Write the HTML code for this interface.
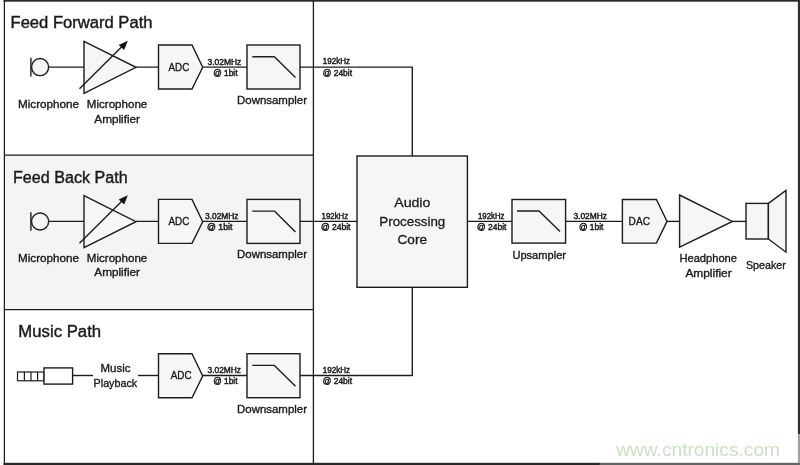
<!DOCTYPE html>
<html>
<head>
<meta charset="utf-8">
<title>Audio Processing Block Diagram</title>
<style>
html,body{margin:0;padding:0;background:#fff;width:800px;height:465px;overflow:hidden}
svg{display:block;position:absolute;left:0;top:0;will-change:transform}
text{font-family:"Liberation Sans",sans-serif;fill:#1a1a1a}
.t{font-size:16px;stroke:#1a1a1a;stroke-width:.4}
.l{font-size:11px;stroke:#1a1a1a;stroke-width:.35}
.s{font-size:8.5px;stroke:#1a1a1a;stroke-width:.45}
.c{font-size:13.5px;stroke:#1a1a1a;stroke-width:.3}
.ln{stroke:#1c1c1c;stroke-width:1.4;fill:none;stroke-linejoin:round}
.sh{stroke:#1c1c1c;stroke-width:1.4;fill:#f5f7f7}
.dv{stroke:#1c1c1c;stroke-width:1.3;fill:none}
.wh{stroke:#1c1c1c;stroke-width:1.2;fill:#fff}
</style>
</head>
<body>
<svg width="800" height="465" viewBox="0 0 800 465">
<rect x="0" y="0" width="800" height="465" fill="#fff"/>
<rect x="4.3" y="155.2" width="309.1" height="154.5" fill="#f3f5f5"/>
<!-- outer frame -->
<rect x="3.6" y="0" width="796.4" height="1.7" fill="#2b2b2b"/>
<rect x="3.6" y="462.8" width="796.4" height="2.2" fill="#262a2a"/>
<rect x="3.75" y="0" width="1.25" height="465" fill="#1c1c1c"/>
<rect x="797.9" y="0" width="2.1" height="465" fill="#2e2e2e"/>
<line class="dv" x1="313.4" y1="1" x2="313.4" y2="464"/>
<line class="dv" x1="4" y1="155.2" x2="314" y2="155.2"/>
<line class="dv" x1="4" y1="309.7" x2="314" y2="309.7"/>

<text class="t" x="10.5" y="28.3" textLength="142" lengthAdjust="spacingAndGlyphs">Feed Forward Path</text>
<text class="t" x="13" y="183" textLength="114.6" lengthAdjust="spacingAndGlyphs">Feed Back Path</text>
<text class="t" x="18.3" y="337" textLength="82.8" lengthAdjust="spacingAndGlyphs">Music Path</text>
<g transform="translate(0,0)">
  <line class="ln" x1="30.9" y1="57.8" x2="30.9" y2="76.4"/>
  <circle class="sh" cx="40.1" cy="67.1" r="8.55"/>
  <polygon class="sh" points="84,41.3 84,93.3 136,67.3"/>
  <line class="ln" x1="79.5" y1="88.8" x2="123.5" y2="45"/>
  <polygon points="127.8,40.8 124.2,50 118.7,45" fill="#111"/>
</g>
<text class="l" x="18" y="107.8" textLength="61" lengthAdjust="spacingAndGlyphs">Microphone</text>
<text class="l" x="86.8" y="107.8" textLength="60.5" lengthAdjust="spacingAndGlyphs">Microphone</text>
<text class="l" x="94.3" y="122.5" textLength="45.7" lengthAdjust="spacingAndGlyphs">Amplifier</text>
<path class="ln" d="M48.6,67.1H84M136,67.1H158.5"/>
<path class="ln" d="M202.7,67.1H247"/>
<g transform="translate(0,0)">
  <polygon class="sh" points="158.5,45 192,45 202.7,67.3 192,89 158.5,89"/>
  <rect class="sh" x="247" y="45" width="53" height="44"/>
  <polyline class="ln" points="252.3,56.7 274.4,56.7 295.5,77.6"/>
</g>
<text class="l" x="168.5" y="70.7" textLength="20.8" lengthAdjust="spacingAndGlyphs">ADC</text>
<text class="l" x="237" y="103.8" textLength="70" lengthAdjust="spacingAndGlyphs">Downsampler</text>
<g transform="translate(0,154.4)">
  <line class="ln" x1="30.9" y1="57.8" x2="30.9" y2="76.4"/>
  <circle class="sh" cx="40.1" cy="67.1" r="8.55"/>
  <polygon class="sh" points="84,41.3 84,93.3 136,67.3"/>
  <line class="ln" x1="79.5" y1="88.8" x2="123.5" y2="45"/>
  <polygon points="127.8,40.8 124.2,50 118.7,45" fill="#111"/>
</g>
<text class="l" x="18" y="261.7" textLength="61" lengthAdjust="spacingAndGlyphs">Microphone</text>
<text class="l" x="86.8" y="261.7" textLength="60.5" lengthAdjust="spacingAndGlyphs">Microphone</text>
<text class="l" x="94.3" y="276.4" textLength="45.7" lengthAdjust="spacingAndGlyphs">Amplifier</text>
<path class="ln" d="M48.6,221.4H84M136,221.4H158.5"/>
<path class="ln" d="M202.7,221.4H247"/>
<g transform="translate(0,154.4)">
  <polygon class="sh" points="158.5,45 192,45 202.7,67.3 192,89 158.5,89"/>
  <rect class="sh" x="247" y="45" width="53" height="44"/>
  <polyline class="ln" points="252.3,56.7 274.4,56.7 295.5,77.6"/>
</g>
<text class="l" x="168.5" y="225.1" textLength="20.8" lengthAdjust="spacingAndGlyphs">ADC</text>
<text class="l" x="237" y="257.8" textLength="70" lengthAdjust="spacingAndGlyphs">Downsampler</text>
<path class="ln" d="M202.7,375.5H247"/>
<g transform="translate(0,308.7)">
  <polygon class="sh" points="158.5,45 192,45 202.7,67.3 192,89 158.5,89"/>
  <rect class="sh" x="247" y="45" width="53" height="44"/>
  <polyline class="ln" points="252.3,56.7 274.4,56.7 295.5,77.6"/>
</g>
<text class="l" x="170.8" y="379.4" textLength="20.8" lengthAdjust="spacingAndGlyphs">ADC</text>
<text class="l" x="237" y="412.5" textLength="70" lengthAdjust="spacingAndGlyphs">Downsampler</text>
<text class="s" x="207.5" y="64.8" textLength="33.7" lengthAdjust="spacingAndGlyphs">3.02MHz</text>
<text class="s" x="213.3" y="76.2" textLength="24.2" lengthAdjust="spacingAndGlyphs">@ 1bit</text>
<text class="s" x="322.8" y="64.3" textLength="27.2" lengthAdjust="spacingAndGlyphs">192kHz</text>
<text class="s" x="322.8" y="75.6" textLength="29.2" lengthAdjust="spacingAndGlyphs">@ 24bit</text>
<text class="s" x="205" y="218.5" textLength="33.5" lengthAdjust="spacingAndGlyphs">3.02MHz</text>
<text class="s" x="207" y="229.7" textLength="25.4" lengthAdjust="spacingAndGlyphs">@ 1bit</text>
<text class="s" x="321.5" y="218.5" textLength="26.7" lengthAdjust="spacingAndGlyphs">192kHz</text>
<text class="s" x="321" y="229.6" textLength="29.5" lengthAdjust="spacingAndGlyphs">@ 24bit</text>
<text class="s" x="207.5" y="372.9" textLength="33.5" lengthAdjust="spacingAndGlyphs">3.02MHz</text>
<text class="s" x="213.3" y="384.3" textLength="24.2" lengthAdjust="spacingAndGlyphs">@ 1bit</text>
<text class="s" x="322.8" y="372.9" textLength="27.2" lengthAdjust="spacingAndGlyphs">192kHz</text>
<text class="s" x="322.8" y="384.1" textLength="29.2" lengthAdjust="spacingAndGlyphs">@ 24bit</text>

<!-- music jack -->
<rect class="wh" x="17.5" y="372" width="26.5" height="8.8"/>
<line class="wh" x1="24.4" y1="372" x2="24.4" y2="380.8"/>
<line class="wh" x1="31" y1="372" x2="31" y2="380.8"/>
<line class="wh" x1="37.6" y1="372" x2="37.6" y2="380.8"/>
<rect class="wh" x="44" y="367.9" width="28.6" height="16.2" style="stroke-width:1.4"/>
<line class="ln" x1="72.6" y1="375.5" x2="93" y2="375.5"/>
<line class="ln" x1="138" y1="375.5" x2="158.5" y2="375.5"/>

<text class="l" x="100.6" y="372.4" textLength="29.8" lengthAdjust="spacingAndGlyphs">Music</text>
<text class="l" x="93.6" y="387" textLength="43.6" lengthAdjust="spacingAndGlyphs">Playback</text>

<!-- wires to core -->
<polyline class="ln" points="300,67.1 412.3,67.1 412.3,156"/>
<line class="ln" x1="300" y1="221.4" x2="357" y2="221.4"/>
<polyline class="ln" points="300,375.5 412.3,375.5 412.3,287.5"/>

<!-- core -->
<rect class="sh" x="357" y="156" width="110.4" height="131.3"/>

<text class="c" x="394.2" y="207.3" textLength="36.2" lengthAdjust="spacingAndGlyphs">Audio</text>
<text class="c" x="379.3" y="226.2" textLength="66" lengthAdjust="spacingAndGlyphs">Processing</text>
<text class="c" x="397.5" y="244.3" textLength="29.5" lengthAdjust="spacingAndGlyphs">Core</text>

<!-- output chain -->
<line class="ln" x1="467.4" y1="221.4" x2="512" y2="221.4"/>
<rect class="sh" x="512" y="199.5" width="53.6" height="43.6"/>
<polyline class="ln" points="517,211 539,211 560,231.6"/>
<line class="ln" x1="565.6" y1="221.4" x2="622.4" y2="221.4"/>
<polygon class="sh" points="622.4,199.5 656.4,199.5 667,221.4 656.4,243.1 622.4,243.1"/>
<line class="ln" x1="667" y1="221.4" x2="679.6" y2="221.4"/>
<polygon class="sh" points="679.6,195 679.6,247.2 732.4,221.4"/>
<line class="ln" x1="732.4" y1="221.4" x2="746" y2="221.4"/>
<rect class="sh" x="746" y="203.4" width="22.4" height="35.6"/>
<polygon class="sh" points="768.4,203.4 786,190.5 786,252.2 768.4,239"/>

<text class="s" x="478" y="219" textLength="26.4" lengthAdjust="spacingAndGlyphs">192kHz</text>
<text class="s" x="477" y="230.3" textLength="29.4" lengthAdjust="spacingAndGlyphs">@ 24bit</text>
<text class="l" x="512.4" y="258.7" textLength="53.6" lengthAdjust="spacingAndGlyphs">Upsampler</text>
<text class="s" x="573.4" y="219" textLength="33.6" lengthAdjust="spacingAndGlyphs">3.02MHz</text>
<text class="s" x="579" y="230.3" textLength="24.4" lengthAdjust="spacingAndGlyphs">@ 1bit</text>
<text class="l" x="628.6" y="225" textLength="21.4" lengthAdjust="spacingAndGlyphs">DAC</text>
<text class="l" x="679.4" y="261.6" textLength="57.6" lengthAdjust="spacingAndGlyphs">Headphone</text>
<text class="l" x="685.4" y="276.6" textLength="46.3" lengthAdjust="spacingAndGlyphs">Amplifier</text>
<text class="l" x="746" y="269" textLength="39.7" lengthAdjust="spacingAndGlyphs">Speaker</text>

<!-- watermark -->
<rect x="599.7" y="462" width="200.3" height="3" fill="#fff" fill-opacity=".28"/>
<rect x="797" y="434" width="3" height="28.6" fill="#fff" fill-opacity=".55"/>
<text x="616.2" y="455.9" textLength="163.8" lengthAdjust="spacingAndGlyphs" style="font-size:17.8px;fill:#cbdfc4">www.cntronics.com</text>
</svg>
</body>
</html>
